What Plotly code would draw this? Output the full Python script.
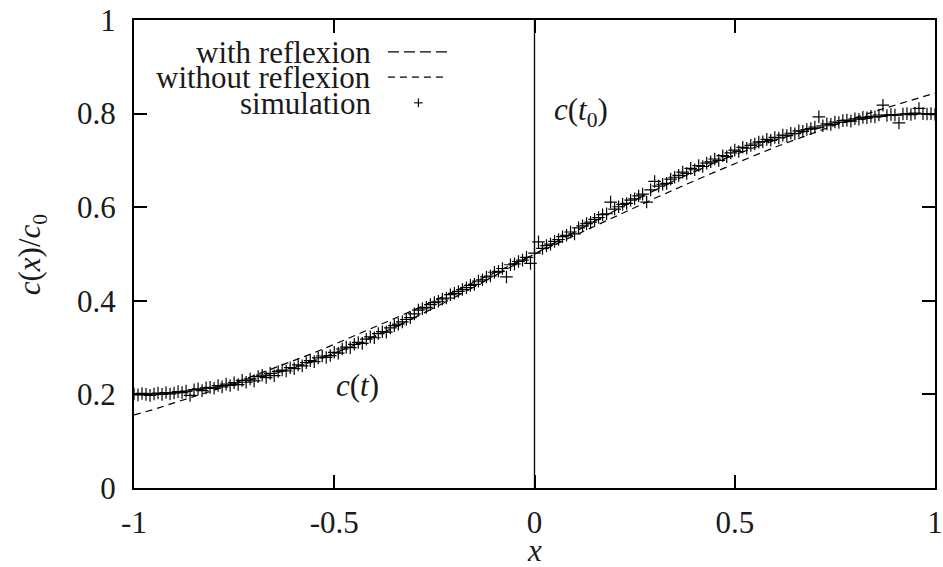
import plotly.graph_objects as go

# ---- data ----
sim_x = [round(-1 + i * 0.01, 2) for i in range(201)]
sim_y = [
    0.201, 0.199, 0.202, 0.200, 0.198, 0.201, 0.203, 0.200, 0.204, 0.201,
    0.203, 0.206, 0.204, 0.207, 0.198, 0.210, 0.212, 0.208, 0.214, 0.215,
    0.213, 0.219, 0.216, 0.222, 0.219, 0.225, 0.221, 0.230, 0.226, 0.233,
    0.229, 0.238, 0.241, 0.236, 0.245, 0.240, 0.249, 0.252, 0.250, 0.257,
    0.255, 0.263, 0.261, 0.268, 0.272, 0.270, 0.278, 0.282, 0.279, 0.283,
    0.290, 0.288, 0.297, 0.301, 0.300, 0.307, 0.311, 0.309, 0.318, 0.323,
    0.321, 0.330, 0.334, 0.333, 0.342, 0.347, 0.350, 0.355, 0.360, 0.364,
    0.372, 0.380, 0.383, 0.386, 0.392, 0.396, 0.399, 0.404, 0.406, 0.413,
    0.416, 0.420, 0.424, 0.428, 0.433, 0.435, 0.442, 0.445, 0.451, 0.453,
    0.461, 0.463, 0.469, 0.451, 0.477, 0.479, 0.484, 0.487, 0.493, 0.480,
    0.502, 0.526, 0.512, 0.518, 0.521, 0.527, 0.531, 0.537, 0.540, 0.547,
    0.543, 0.556, 0.560, 0.565, 0.568, 0.574, 0.578, 0.584, 0.586, 0.611,
    0.596, 0.601, 0.606, 0.608, 0.615, 0.618, 0.624, 0.628, 0.611, 0.637,
    0.655, 0.645, 0.649, 0.651, 0.660, 0.664, 0.668, 0.675, 0.672, 0.683,
    0.680, 0.689, 0.687, 0.694, 0.697, 0.703, 0.700, 0.710, 0.708, 0.716,
    0.722, 0.719, 0.728, 0.726, 0.732, 0.735, 0.739, 0.740, 0.745, 0.743,
    0.749, 0.748, 0.754, 0.753, 0.758, 0.757, 0.763, 0.762, 0.766, 0.768,
    0.771, 0.793, 0.774, 0.778, 0.777, 0.782, 0.781, 0.785, 0.786, 0.784,
    0.789, 0.788, 0.792, 0.791, 0.794, 0.793, 0.797, 0.818, 0.796, 0.798,
    0.797, 0.780, 0.799, 0.800, 0.798, 0.801, 0.811, 0.800, 0.799, 0.800,
    0.798,
]

theory_x = [round(-1 + i * 0.05, 2) for i in range(41)]
with_refl_y = [
    0.200, 0.201, 0.204, 0.208, 0.215, 0.223, 0.233, 0.244, 0.257, 0.272,
    0.288, 0.305, 0.324, 0.343, 0.364, 0.385, 0.407, 0.430, 0.453, 0.476,
    0.500, 0.524, 0.547, 0.570, 0.593, 0.615, 0.636, 0.657, 0.676, 0.695,
    0.712, 0.728, 0.743, 0.756, 0.767, 0.777, 0.785, 0.792, 0.796, 0.799,
    0.800,
]
without_refl_y = [
    0.156, 0.168, 0.182, 0.195, 0.209, 0.224, 0.240, 0.256, 0.272, 0.289,
    0.307, 0.325, 0.343, 0.362, 0.381, 0.400, 0.420, 0.440, 0.460, 0.480,
    0.500, 0.520, 0.540, 0.560, 0.580, 0.600, 0.619, 0.638, 0.657, 0.675,
    0.693, 0.711, 0.728, 0.744, 0.760, 0.776, 0.791, 0.805, 0.818, 0.832,
    0.844,
]
t0_x = [0, 0]
t0_y = [0, 1]

x_ticks = [-1, -0.5, 0, 0.5, 1]
x_tick_labels = ["-1", "-0.5", "0", "0.5", "1"]
y_ticks = [0, 0.2, 0.4, 0.6, 0.8, 1]
y_tick_labels = ["0", "0.2", "0.4", "0.6", "0.8", "1"]

legend_labels = ["with reflexion", "without reflexion", "simulation"]

SERIF = "Liberation Serif, Times New Roman, serif"
FS = 31
TXT = "#1a1a1a"

fig = go.Figure()
fig.add_trace(go.Scatter(x=t0_x, y=t0_y, mode="lines",
                         line=dict(color="black", width=1.3), showlegend=False))
fig.add_trace(go.Scatter(x=theory_x, y=without_refl_y, mode="lines",
                         line=dict(color="black", width=1.2, dash="7px,5px"),
                         showlegend=False))
fig.add_trace(go.Scatter(x=theory_x, y=with_refl_y, mode="lines",
                         line=dict(color="black", width=1.2, dash="11px,5px"),
                         showlegend=False))
fig.add_trace(go.Scatter(x=sim_x, y=sim_y, mode="markers",
                         marker=dict(symbol="cross-thin", size=9,
                                     line=dict(color="black", width=1.2)),
                         showlegend=False))

axis_common = dict(showline=True, linecolor="black", linewidth=2, mirror="ticks",
                   ticks="inside", ticklen=13, tickwidth=2, tickcolor="black",
                   showgrid=False, zeroline=False, automargin=False,
                   ticklabeloverflow="allow",
                   tickfont=dict(family=SERIF, size=FS, color=TXT))

fig.update_xaxes(range=[-1, 1], tickvals=x_ticks, ticktext=x_tick_labels,
                 ticklabelstandoff=6, **axis_common)
fig.update_yaxes(range=[0, 1], tickvals=y_ticks, ticktext=y_tick_labels,
                 ticklabelstandoff=10, **axis_common)

# axis titles
fig.add_annotation(x=0.5, y=-0.169, xref="paper", yref="paper", showarrow=False,
                   xanchor="center", yanchor="bottom", text="<i>x</i>", height=30,
                   font=dict(family=SERIF, size=FS, color=TXT))
fig.add_annotation(x=-0.127, y=0.5, xref="paper", yref="paper", showarrow=False,
                   xanchor="center", yanchor="middle", textangle=-90,
                   text="<i>c</i>(<i>x</i>)/<i>c</i><sub>0</sub>",
                   font=dict(family=SERIF, size=FS, color=TXT))

# in-plot labels
fig.add_annotation(x=0.116, y=0.803, xref="x", yref="y", showarrow=False,
                   text="<i>c</i>(<i>t</i><sub>0</sub>)",
                   font=dict(family=SERIF, size=FS, color=TXT))
fig.add_annotation(x=-0.441, y=0.22, xref="x", yref="y", showarrow=False,
                   text="<i>c</i>(<i>t</i>)",
                   font=dict(family=SERIF, size=FS, color=TXT))

# gnuplot-style key (text right-aligned, sample on the right)
rows_y = [0.932, 0.878, 0.823]
for lbl, ry in zip(legend_labels, rows_y):
    fig.add_annotation(x=0.298, y=ry, xref="paper", yref="paper", showarrow=False,
                       xanchor="right", yanchor="middle", text=lbl, height=24,
                       font=dict(family=SERIF, size=FS, color=TXT))
fig.add_shape(type="line", xref="paper", yref="paper", x0=0.317, x1=0.391,
              y0=rows_y[0], y1=rows_y[0], line=dict(color="black", width=1.2, dash="11px,5px"))
fig.add_shape(type="line", xref="paper", yref="paper", x0=0.317, x1=0.391,
              y0=rows_y[1], y1=rows_y[1], line=dict(color="black", width=1.2, dash="7px,5px"))
fig.add_shape(type="line", xref="paper", yref="paper", x0=0.3495, x1=0.3605,
              y0=rows_y[2], y1=rows_y[2], line=dict(color="black", width=1.1))
fig.add_shape(type="line", xref="paper", yref="paper", x0=0.355, x1=0.355,
              y0=rows_y[2] - 0.0096, y1=rows_y[2] + 0.0096, line=dict(color="black", width=1.1))

fig.update_layout(width=943, height=567, margin=dict(l=134, r=8, t=20, b=79),
                  plot_bgcolor="white", paper_bgcolor="white", showlegend=False)

fig.write_html(
    "out.html",
    config={"displayModeBar": False},
    post_script="document.body.style.margin='0';document.body.style.overflow='hidden';",
)
